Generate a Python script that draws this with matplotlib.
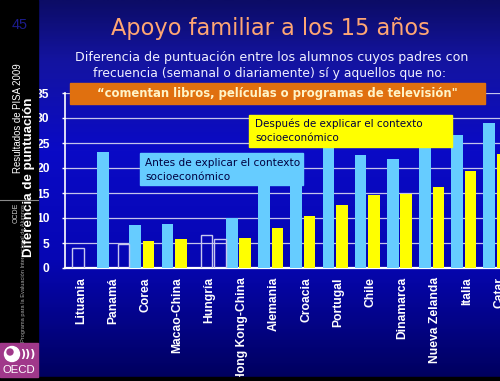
import numpy as np
import matplotlib
matplotlib.use("Agg")
import matplotlib.pyplot as plt
from matplotlib.patches import Rectangle, Circle
from matplotlib.colors import LinearSegmentedColormap

# ---------------- data ----------------
categories = ["Lituania", "Panamá", "Corea", "Macao-China", "Hungría",
              "Hong Kong-China", "Alemania", "Croacia", "Portugal", "Chile",
              "Dinamarca", "Nueva Zelanda", "Italia", "Catar"]
before = [4.0, 23.3, 8.6, 8.9, 6.7, 10.1, 19.0, 21.0, 26.5, 22.6, 21.9, 27.5, 26.6, 29.1]
after = [np.nan, 4.9, 5.5, 5.9, 5.9, 6.1, 8.1, 10.4, 12.7, 14.7, 14.8, 16.2, 19.4, 22.9]
before_sig = [False, True, True, True, False, True, True, True, True, True, True, True, True, True]
after_sig = [False, False, True, True, False, True, True, True, True, True, True, True, True, True]
yticks = [0, 5, 10, 15, 20, 25, 30, 35]

title = "Apoyo familiar a los 15 años"
sub1 = "Diferencia de puntuación entre los alumnos cuyos padres con"
sub2 = "frecuencia (semanal o diariamente) sí y aquellos que no:"
boxtext = "\u201ccomentan libros, películas o programas de televisión\""
antes = ["Antes de explicar el contexto", "socioeconómico"]
despues = ["Después de explicar el contexto", "socioeconómico"]

W, H = 500, 381
fig = plt.figure(figsize=(W / 100, H / 100), dpi=100)
renderer = fig.canvas.get_renderer()

# ---------------- background gradient ----------------
bg = fig.add_axes([0, 0, 1, 1])
bg.set_xlim(0, W); bg.set_ylim(H, 0); bg.axis("off")
stops = [(0, "#0c0c66"), (60 / H, "#1414a0"), (150 / H, "#0a0ac6"),
         (260 / H, "#0606b4"), (330 / H, "#030382"), (1.0, "#00005c")]
cmap = LinearSegmentedColormap.from_list("slide", stops)
grad = np.linspace(0, 1, 400).reshape(-1, 1)
bg.imshow(grad, cmap=cmap, extent=[0, W, H, 0], aspect="auto")

# ---------------- main chart ----------------
y0px, y35px = 268, 93
ax = fig.add_axes([65 / W, (H - y0px) / H, 451 / W, (y0px - y35px) / H])
ax.set_facecolor("none")
idx = np.arange(len(categories))
bw, off, ns_shift = 0.36, 0.21, 0.22
b = np.array(before); a = np.array(after)
bs = np.array(before_sig); as_ = np.array(after_sig)
ax.bar(idx[bs] - off, b[bs], width=bw, color="#66CCFF", zorder=3)
ax.bar(idx[~bs] - off + ns_shift, b[~bs], width=bw, facecolor="none",
       edgecolor="#c8c8f0", lw=1.0, zorder=3)
ax.bar(idx[as_] + off, a[as_], width=bw, color="#FFFF00", zorder=3)
mask = (~as_) & ~np.isnan(a)
ax.bar(idx[mask] + off + ns_shift, a[mask], width=bw, facecolor="none",
       edgecolor="#c8c8f0", lw=1.0, zorder=3)

ax.set_xlim(-0.39, 13.62)
ax.set_ylim(0, 35)
ax.set_yticks(yticks)
ax.set_yticklabels([str(v) for v in yticks])
ax.yaxis.grid(True, color="#c4c4ea", lw=0.9)
ax.set_axisbelow(True)
for s in ["top", "right"]:
    ax.spines[s].set_visible(False)
ax.spines["left"].set_color("white"); ax.spines["left"].set_linewidth(1.2)
ax.spines["bottom"].set_color("white"); ax.spines["bottom"].set_linewidth(1.6)
ax.tick_params(axis="y", colors="white", length=2.5, width=1, pad=8.5, labelsize=8.7)
for lab in ax.get_yticklabels():
    lab.set_fontweight("bold"); lab.set_family("Liberation Sans")
ax.set_xticks(idx + 0.1)
ax.set_xticklabels(categories, rotation=90, fontsize=8.7, fontweight="bold",
                   color="white", family="Liberation Sans")
ax.tick_params(axis="x", length=0, pad=6.5)

# ---------------- overlay ----------------
ov = fig.add_axes([0, 0, 1, 1], zorder=10)
ov.set_xlim(0, W); ov.set_ylim(H, 0); ov.axis("off"); ov.set_facecolor("none")


def fit(x, y, s, length, vertical=False, **kw):
    t = ov.text(x, y, s, **kw)
    bb = t.get_window_extent(renderer=renderer)
    cur = bb.height if vertical else bb.width
    t.set_fontsize(t.get_fontsize() * length / cur)
    return t


casual = "DejaVu Sans"
fit(270, 29, title, 320, ha="center", va="center", color="#FFA673", family=casual, fontsize=18)
fit(272, 57, sub1, 390, ha="center", va="center", color="#F0F0FF", family=casual, fontsize=10)
fit(270, 73, sub2, 354, ha="center", va="center", color="#F0F0FF", family=casual, fontsize=10)

ov.add_patch(Rectangle((70, 83), 415, 21, color="#E0700F", zorder=2))
fit(277, 93.5, boxtext, 361, ha="center", va="center", color="#FFF4C8",
    family=casual, fontweight="bold", fontsize=10, zorder=3)

ov.add_patch(Rectangle((140, 153), 163, 32, color="#66CCFF", zorder=2))
t1 = fit(145, 163, antes[0], 153, ha="left", va="center", color="#000040",
         family=casual, fontsize=9, zorder=3)
ov.text(145, 177, antes[1], ha="left", va="center", color="#000040",
        family=casual, fontsize=t1.get_fontsize(), zorder=3)

ov.add_patch(Rectangle((249, 115), 203, 32, color="#FFFF00", zorder=2))
t2 = fit(255, 124, despues[0], 167, ha="left", va="center", color="#000040",
         family=casual, fontsize=9, zorder=3)
ov.text(255, 138, despues[1], ha="left", va="center", color="#000040",
        family=casual, fontsize=t2.get_fontsize(), zorder=3)

# left black strip
ov.add_patch(Rectangle((0, 0), 38, H, color="black", zorder=1))
ov.add_patch(Rectangle((0, 377), W, 4, color="black", zorder=1))
fit(20, 25, "45", 16, ha="center", va="center", color="#1c1c8c",
    family="Liberation Sans", fontsize=10, zorder=3)
fit(18, 118, "Resultados de PISA 2009", 110, vertical=True, rotation=90,
    ha="center", va="center", color="white", family="Liberation Sans", fontsize=8, zorder=3)
ov.plot([0, 38], [200, 200], color="#8a8a8a", lw=0.8, zorder=2)
fit(16, 213, "OCDE", 20, vertical=True, rotation=90, ha="center", va="center",
    color="#cfcfcf", family="Liberation Sans", fontsize=4, zorder=3)
fit(23.5, 273, "Programa para la Evaluación Internacional de Alumnos", 137, vertical=True,
    rotation=90, ha="center", va="center", color="#a8a8a8", family="Liberation Sans",
    fontsize=4, zorder=3)
fit(29, 177, "Diferencia de puntuación", 160, vertical=True, rotation=90,
    ha="center", va="center", color="white", family="Liberation Sans",
    fontweight="bold", fontsize=9, zorder=4)

# OECD logo
ov.add_patch(Rectangle((0, 343), 38, 34, color="#A0388A", zorder=2))
ov.add_patch(Circle((12, 354), 7.5, color="white", zorder=3))
ov.add_patch(Circle((10, 352), 3, color="#A0388A", zorder=4))
ov.text(28, 354, ")))", ha="center", va="center", color="white",
        fontsize=8, fontweight="bold", zorder=3)
fit(19, 370, "OECD", 33, ha="center", va="center", color="white",
    family="Liberation Sans", fontsize=8, zorder=3)

fig.savefig("out.png", dpi=100)
